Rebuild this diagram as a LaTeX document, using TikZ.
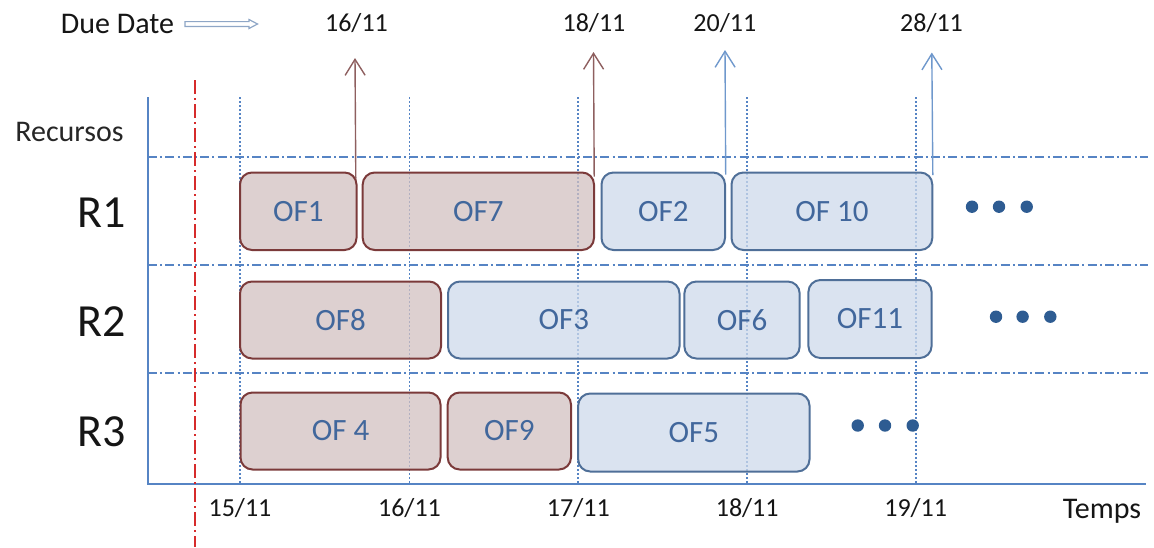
\documentclass[tikz,border=0pt]{standalone}
\usepackage{fontspec}
\setmainfont{Carlito}
\usetikzlibrary{arrows.meta,calc}

\definecolor{axisblue}{HTML}{5684C4}
\definecolor{jobtext}{HTML}{41679C}
\definecolor{latefill}{HTML}{D2C0C0}
\definecolor{lateborder}{HTML}{7B3A3A}
\definecolor{okfill}{HTML}{CEDAEB}
\definecolor{okborder}{HTML}{4F6F98}
\definecolor{latearrow}{HTML}{8E5F5F}
\definecolor{okarrow}{HTML}{6F98CC}
\definecolor{dotblue}{HTML}{2E5C92}
\definecolor{nowred}{HTML}{D62B2B}
\definecolor{hollowarrow}{HTML}{8EA6C6}
\definecolor{labelink}{HTML}{151515}

\tikzset{
  gridrow/.style={draw=axisblue, line width=1pt, dash pattern=on 4.5pt off 1.6pt on 1pt off 1.6pt},
  gridday/.style={draw=axisblue, line width=0.9pt, dash pattern=on 0.8pt off 1.2pt},
  axisline/.style={draw=axisblue, line width=1.2pt},
  nowline/.style={draw=nowred, line width=1.2pt, dash pattern=on 7pt off 2pt on 1pt off 2pt},
  job/.style={rounded corners=6pt, line width=1pt, inner sep=0pt,
    font=\fontsize{15.5}{18}\selectfont, text=jobtext,
    fill opacity=0.75, text opacity=1},
  latejob/.style={job, draw=lateborder, fill=latefill},
  okjob/.style={job, draw=okborder, fill=okfill},
  duelate/.style={draw=latearrow, line width=0.7pt, -{Straight Barb[length=8pt,width=10pt]}},
  dueok/.style={draw=okarrow, line width=0.7pt, -{Straight Barb[length=8pt,width=10pt]}},
  datelabel/.style={font=\fontsize{13}{15}\selectfont, text=labelink, inner sep=0pt},
  reslabel/.style={font=\fontsize{23}{26}\selectfont, text=labelink, inner sep=0pt},
  titlelabel/.style={font=\fontsize{15}{18}\selectfont, text=labelink, inner sep=0pt},
  moredot/.style={circle, fill=dotblue, minimum size=6.2pt, inner sep=0pt},
}

\begin{document}
\begin{tikzpicture}[x=0.5pt,y=-0.5pt]
\useasboundingbox (0,0) rectangle (1154,547);

% row separators
\draw[gridrow] (148,157) -- (1148,157);
\draw[gridrow] (148,265) -- (1148,265);
\draw[gridrow] (148,373) -- (1148,373);

% day lines
\foreach \dx in {240,409.5,578.3,747.2,915.7}
  \draw[gridday] (\dx,97) -- (\dx,484);

% axes
\draw[axisline] (148,97) -- (148,484) -- (1146,484);

% current date
\draw[nowline] (195,80) -- (195,547);

% resource R1
\node[latejob, minimum width=58.25pt, minimum height=38.75pt] (of1) at (298.25,211.25) {OF1};
\node[latejob, minimum width=115.65pt, minimum height=38.75pt] (of7) at (478.35,211.25) {OF7};
\node[okjob, minimum width=61.75pt, minimum height=38.75pt] (of2) at (663.25,211.25) {OF2};
\node[okjob, minimum width=100.4pt, minimum height=38.75pt] (of10) at (831.9,211.25) {OF 10};

% resource R2
\node[latejob, minimum width=100.5pt, minimum height=38.5pt] (of8) at (340.5,320) {OF8};
\node[okjob, minimum width=115.75pt, minimum height=38.5pt] (of3) at (563.75,320) {OF3};
\node[okjob, minimum width=57.65pt, minimum height=38.5pt] (of6) at (742.05,320) {OF6};
\node[okjob, minimum width=61.6pt, minimum height=39pt] (of11) at (870,319) {OF11};

% resource R3
\node[latejob, minimum width=100pt, minimum height=38.5pt] (of4) at (340.5,431) {OF 4};
\node[latejob, minimum width=61.65pt, minimum height=38.5pt] (of9) at (509.35,431) {OF9};
\node[okjob, minimum width=115.65pt, minimum height=39pt] (of5) at (693.85,432.5) {OF5};

% continuation marks
\node[moredot] (m11) at (972,206.7) {};
\node[moredot] (m12) at (999,206.7) {};
\node[moredot] (m13) at (1026.7,206.7) {};
\node[moredot] (m21) at (996,316.7) {};
\node[moredot] (m22) at (1022.6,316.7) {};
\node[moredot] (m23) at (1050.3,316.7) {};
\node[moredot] (m31) at (857.7,425.5) {};
\node[moredot] (m32) at (885,425.5) {};
\node[moredot] (m33) at (912.7,425.5) {};

% due dates
\node[datelabel] (t16) at (356.5,23) {16/11};
\node[datelabel] (t18) at (594,23) {18/11};
\node[datelabel] (t20) at (724.8,23) {20/11};
\node[datelabel] (t28) at (931.5,23) {28/11};
\coordinate (d16) at (355,58);
\coordinate (d18) at (593.5,52);
\coordinate (d20) at (725,50);
\coordinate (d28) at (931.8,52.5);
\draw[duelate] (of1.north east) ++(-1.7,7) -- (d16);
\draw[duelate] (of7.north east) ++(-0.8,5) -- (d18);
\draw[dueok] (of2.north east) ++(-0.3,3) -- (d20);
\draw[dueok] (of10.north east) ++(-0.5,3.5) -- (d28);

% legend
\node[titlelabel] (due) at (117.5,24) {Due Date};
\draw[draw=hollowarrow, line width=0.6pt, fill=white]
  (185,21.6) -- (249,21.6) -- (249,19.5) -- (257.5,24) -- (249,28.5) -- (249,26.4) -- (185,26.4) -- cycle;

% axis titles
\node[titlelabel, text=black!85] (recursos) at (69.5,132) {Recursos};
\node[titlelabel] (temps) at (1102,511) {Temps};

% resource names
\node[reslabel] (r1) at (101.5,213) {R1};
\node[reslabel] (r2) at (101.5,322) {R2};
\node[reslabel] (r3) at (101.5,432) {R3};

% day labels
\node[datelabel] (x15) at (240,508) {15/11};
\node[datelabel] (x16) at (409.5,508) {16/11};
\node[datelabel] (x17) at (578.3,508) {17/11};
\node[datelabel] (x18) at (747.2,508) {18/11};
\node[datelabel] (x19) at (915.7,508) {19/11};
\end{tikzpicture}
\end{document}
